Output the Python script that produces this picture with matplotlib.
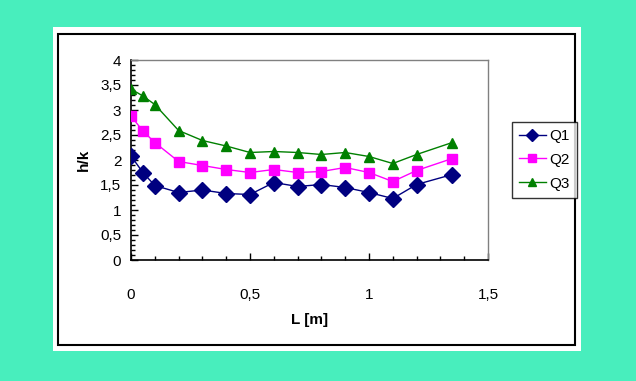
import matplotlib
matplotlib.use("Agg")
import matplotlib.pyplot as plt
from matplotlib.patches import Rectangle
from matplotlib.ticker import MultipleLocator, FuncFormatter

L = [0, 0.05, 0.1, 0.2, 0.3, 0.4, 0.5, 0.6, 0.7, 0.8, 0.9, 1.0, 1.1, 1.2, 1.35]
Q1 = [2.08, 1.75, 1.49, 1.35, 1.40, 1.33, 1.31, 1.55, 1.47, 1.51, 1.45, 1.35, 1.23, 1.51, 1.71]
Q2 = [2.88, 2.58, 2.35, 1.97, 1.89, 1.81, 1.75, 1.81, 1.75, 1.77, 1.85, 1.75, 1.57, 1.79, 2.03]
Q3 = [3.42, 3.28, 3.11, 2.59, 2.39, 2.28, 2.15, 2.17, 2.15, 2.11, 2.15, 2.07, 1.93, 2.11, 2.35]
series_names = ["Q1", "Q2", "Q3"]

plt.rcParams['font.family'] = ['Liberation Sans', 'DejaVu Sans']

W, H = 636, 381
fig = plt.figure(figsize=(W / 100, H / 100), dpi=100)
fig.patch.set_facecolor('#48EEBD')

# white panel and black border
fig.add_artist(Rectangle((53 / W, 1 - 351 / H), (581 - 53) / W, (351 - 27) / H,
                         transform=fig.transFigure, facecolor='white', edgecolor='none', zorder=-2))
fig.add_artist(Rectangle((58.5 / W, 1 - 345 / H), (575 - 58.5) / W, (345 - 33.5) / H,
                         transform=fig.transFigure, facecolor='none', edgecolor='black', lw=1.5, zorder=-1))

ax = fig.add_axes([131 / W, 1 - 260 / H, (488 - 131) / W, 200 / H])
ax.set_zorder(2)
ax.set_facecolor('white')

ax.plot(L, Q1, color='#000080', marker='D', markersize=8, lw=1, label=series_names[0], zorder=3)
ax.plot(L, Q2, color='#FF00FF', marker='s', markersize=7, lw=1, label=series_names[1], zorder=3)
ax.plot(L, Q3, color='#008000', marker='^', markersize=7, lw=1, label=series_names[2], zorder=3)

ax.set_xlim(0, 1.5)
ax.set_ylim(0, 4)
ax.xaxis.set_major_locator(MultipleLocator(0.5))
ax.xaxis.set_minor_locator(MultipleLocator(0.1))
ax.yaxis.set_major_locator(MultipleLocator(0.5))
ax.yaxis.set_minor_locator(MultipleLocator(0.1))

fmt = FuncFormatter(lambda v, p: ('%g' % v).replace('.', ','))
ax.xaxis.set_major_formatter(fmt)
ax.yaxis.set_major_formatter(fmt)

ax.tick_params(which='both', direction='in', labelsize=11, color='black')
ax.tick_params(which='major', length=5, width=1)
ax.tick_params(which='minor', length=3, width=1)
ax.tick_params(axis='x', pad=20)
ax.tick_params(axis='y', pad=7)

for s in ['top', 'right']:
    ax.spines[s].set_color('#808080')
    ax.spines[s].set_linewidth(1)
for s in ['left', 'bottom']:
    ax.spines[s].set_color('black')
    ax.spines[s].set_linewidth(1.2)

ax.set_xlabel('L [m]', fontsize=11, fontweight='bold', labelpad=8)
ax.set_ylabel('h/k', fontsize=11, fontweight='bold', labelpad=7)

leg = fig.legend(*ax.get_legend_handles_labels(), loc='upper left',
                 bbox_to_anchor=(512 / W, 1 - 122 / H),
                 fontsize=11, frameon=True, fancybox=False, edgecolor='black',
                 handlelength=1.75, handletextpad=0.25, borderpad=0.45, labelspacing=0.65,
                 borderaxespad=0, markerscale=0.8)
leg.get_frame().set_linewidth(1)

fig.savefig('out.png', dpi=100, facecolor=fig.get_facecolor())
